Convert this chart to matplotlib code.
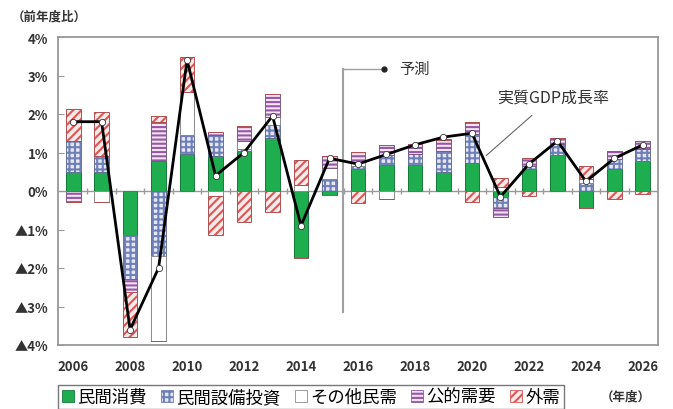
import numpy as np
import matplotlib
matplotlib.use("Agg")
import matplotlib.pyplot as plt
from matplotlib.patches import Patch

plt.rcParams['font.family'] = ['Noto Sans CJK JP', 'DejaVu Sans']
plt.rcParams['hatch.linewidth'] = 1.5

# 年度
years = np.arange(2006, 2027)

# 寄与度 (%ポイント)
cons = [0.5, 0.5, -1.15, 0.77, 0.97, 0.9, 1.05, 1.37, -1.75, -0.1, 0.56,
        0.67, 0.67, 0.5, 0.72, -0.15, 0.56, 0.93, -0.45, 0.58, 0.78]
capex = [0.8, 0.42, -1.13, -1.7, 0.48, 0.55, 0.05, 0.35, 0.0, 0.3, 0.1,
         0.26, 0.3, 0.55, 0.75, -0.3, 0.1, 0.3, 0.2, 0.25, 0.3]
other = [0.0, -0.28, 0.0, -2.2, 1.12, -0.12, 0.2, 0.2, 0.15, 0.3, 0.1,
         -0.2, 0.0, 0.0, 0.0, 0.1, 0.0, 0.0, 0.1, 0.0, 0.0]
public = [-0.28, 0.0, -0.35, 1.03, 0.0, 0.08, 0.4, 0.6, 0.0, 0.3, 0.25,
          0.26, 0.25, 0.28, 0.32, -0.22, 0.2, 0.15, 0.0, 0.2, 0.22]
external = [0.82, 1.14, -1.15, 0.15, 0.9, -1.03, -0.8, -0.55, 0.65, 0.0, -0.32,
            0.0, 0.0, 0.03, -0.28, 0.25, -0.12, 0.0, 0.35, -0.2, -0.08]

# 実質GDP成長率
gdp = [1.8, 1.8, -3.6, -2.0, 3.4, 0.4, 1.0, 1.95, -0.9, 0.85, 0.7,
       0.95, 1.2, 1.4, 1.5, -0.15, 0.7, 1.3, 0.25, 0.85, 1.2]

labels = ['民間消費', '民間設備投資', 'その他民需', '公的需要', '外需']
series = [cons, capex, other, public, external]
# (face, hatch colour, hatch, outline)
styles = [
    ('#1fae4f', '#1fae4f', None, '#157a38'),
    ('#e6e9f5', '#6f80b8', '+++', '#66709a'),
    ('white', 'white', None, '#8a8a8a'),
    ('#f3e4f3', '#9558a6', '----', '#7a5a88'),
    ('#fbeaea', '#de5555', '////', '#b05050'),
]

fig = plt.figure(figsize=(6.73, 4.10), dpi=100)
ax = fig.add_axes([58/673, 1-346/410, 600/673, 308/410])

# stacked bars, positives up and negatives down
pos_base = np.zeros(len(years))
neg_base = np.zeros(len(years))
for vals, (fc, hc, hatch, ec) in zip(series, styles):
    v = np.array(vals)
    p = np.where(v > 0, v, 0)
    n = np.where(v < 0, v, 0)
    for part, base in ((p, pos_base), (n, neg_base)):
        ax.bar(years, part, width=0.52, bottom=base, facecolor=fc,
               edgecolor=hc, hatch=hatch, linewidth=0, zorder=2)
        ax.bar(years, part, width=0.52, bottom=base, facecolor='none',
               edgecolor=ec, linewidth=0.7, zorder=2)
    pos_base += p
    neg_base += n

ax.axhline(0, color='#9a9a9a', lw=1, zorder=1)
ax.plot(years[:-1] + 0.5, np.zeros(len(years) - 1), ls='none', marker='|',
        ms=4, color='#9a9a9a', zorder=1)

# GDP line
ax.plot(years, gdp, color='black', lw=2, marker='o', ms=4.5,
        mfc='white', mec='#333333', mew=0.6, zorder=4)

# forecast marker
ax.plot([2015.47, 2015.47], [-3.13, 3.18], color='#a0a0a0', lw=1.5, zorder=3)
ax.plot([2015.47, 2016.9], [3.18, 3.18], color='#a0a0a0', lw=1, zorder=3)
ax.plot([2016.9], [3.18], 'o', color='#222222', ms=3.5, zorder=3)
ax.text(2017.45, 3.18, '予測', fontsize=11, va='center', ha='left', color='#333333')

ax.annotate('実質GDP成長率', xy=(2020.5, 0.92), xytext=(2022.85, 2.45),
            fontsize=11.5, ha='center', va='center', color='#333333',
            arrowprops=dict(arrowstyle='-', color='#666666', lw=0.8,
                            shrinkA=8, shrinkB=0))

ax.set_xlim(2005.47, 2026.53)
ax.set_ylim(-4, 4)
ax.set_xticks(years[::2])
ax.set_xticklabels([str(y) for y in years[::2]], fontsize=9.5, fontweight='bold',
                   color='#333333')
yt = np.arange(-4, 5)
ax.set_yticks(yt)
ax.set_yticklabels([('▲%d%%' % -t) if t < 0 else ('%d%%' % t) for t in yt],
                   fontsize=9.5, fontweight='bold', color='#333333')
ax.tick_params(axis='x', length=0, pad=10)
ax.tick_params(axis='y', direction='in', length=4, color='#999999', pad=7)
for s in ax.spines.values():
    s.set_color('#999999')
    s.set_linewidth(1.3)

fig.text(12/673, 1-17/410, '（前年度比）', fontsize=9, va='center', ha='left',
         color='#333333', fontweight='bold')
fig.text(626/673, 1-397/410, '（年度）', fontsize=9, va='center', ha='center',
         color='#333333', fontweight='bold')

handles = [Patch(facecolor=fc, edgecolor=hc if hatch else ec, hatch=hatch,
                 linewidth=0.6, label=l)
           for l, (fc, hc, hatch, ec) in zip(labels, styles)]
leg = fig.legend(handles=handles, loc='center', ncol=5,
                 bbox_to_anchor=(311/673, 1-398/410), fontsize=12.5,
                 frameon=True, fancybox=False, edgecolor='#555555',
                 handlelength=0.7, handleheight=0.7, handletextpad=0.2,
                 columnspacing=0.8, borderpad=0.2, borderaxespad=0)
leg.get_frame().set_linewidth(1.0)

fig.savefig('out.png', dpi=100)
